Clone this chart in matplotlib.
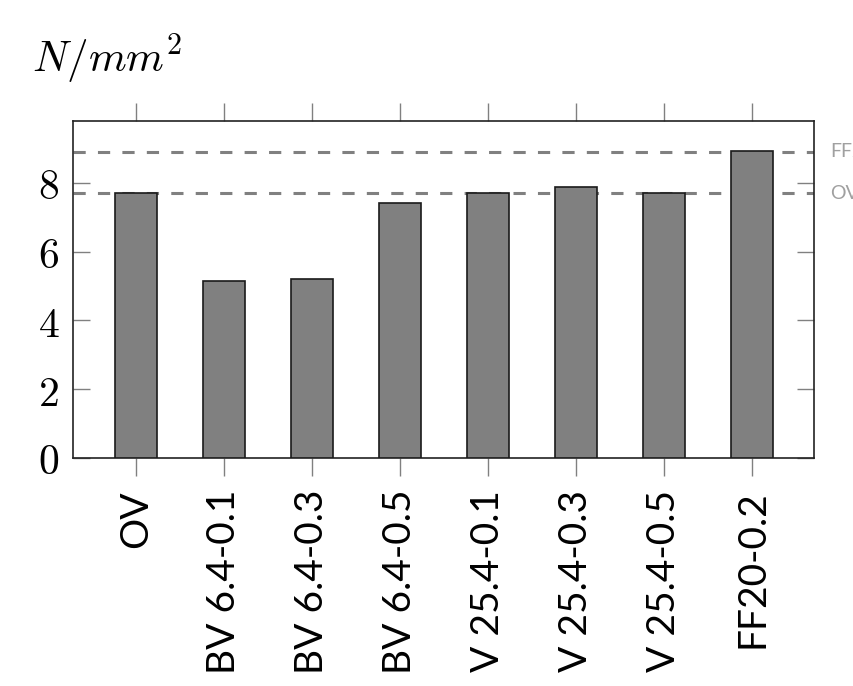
import matplotlib
matplotlib.use("Agg")
import matplotlib.pyplot as plt

# data
categories = ['OV', 'BV 6.4-0.1', 'BV 6.4-0.3', 'BV 6.4-0.5',
              'V 25.4-0.1', 'V 25.4-0.3', 'V 25.4-0.5', 'FF20-0.2']
strength = [7.70, 5.15, 5.20, 7.42, 7.70, 7.88, 7.70, 8.92]
ref_lines = {'FF20-0.2': 8.90, 'OV': 7.70}
yticks = [0, 2, 4, 6, 8]

plt.rcParams['mathtext.fontset'] = 'cm'

fig = plt.figure(figsize=(8.54, 6.86), dpi=100)
ax = fig.add_axes([0.0855, 0.3324, 0.8675, 0.4912])

x = range(len(categories))
ax.bar(x, strength, width=0.48, color='#808080', edgecolor='#1a1a1a', linewidth=1.2, zorder=3)

# reference lines with a grey label just right of the axes (cut by the figure edge as in the original)
for name, val in ref_lines.items():
    ax.axhline(val, xmin=0, xmax=1.0, color='#808080', linestyle=(0, (4, 4)),
               linewidth=2.2, zorder=2)
    ax.text(1.022, val, name, transform=ax.get_yaxis_transform(), color='#a0a0a0',
            fontsize=14, family='Lato', va='center', ha='left', clip_on=False)

ax.set_xlim(-0.716, 7.70)
ax.set_ylim(0, 9.8)

ax.set_xticks(list(x))
ax.set_xticklabels(categories, rotation=90, fontsize=28, family='Lato', va='top')
ax.set_yticks(yticks)
ax.set_yticklabels(['$%d$' % v for v in yticks], fontsize=30)

ax.tick_params(axis='x', direction='out', top=True, bottom=True, length=13,
               width=1.0, color='#808080', pad=10)
ax.tick_params(axis='y', direction='in', left=True, right=True, length=12,
               width=1.0, color='#808080', pad=10)

for s in ax.spines.values():
    s.set_color('#222222')
    s.set_linewidth(1.2)

fig.text(0.038, 0.895, '$N/mm^2$', fontsize=31, ha='left', va='baseline')

fig.savefig('out.png', dpi=100)
